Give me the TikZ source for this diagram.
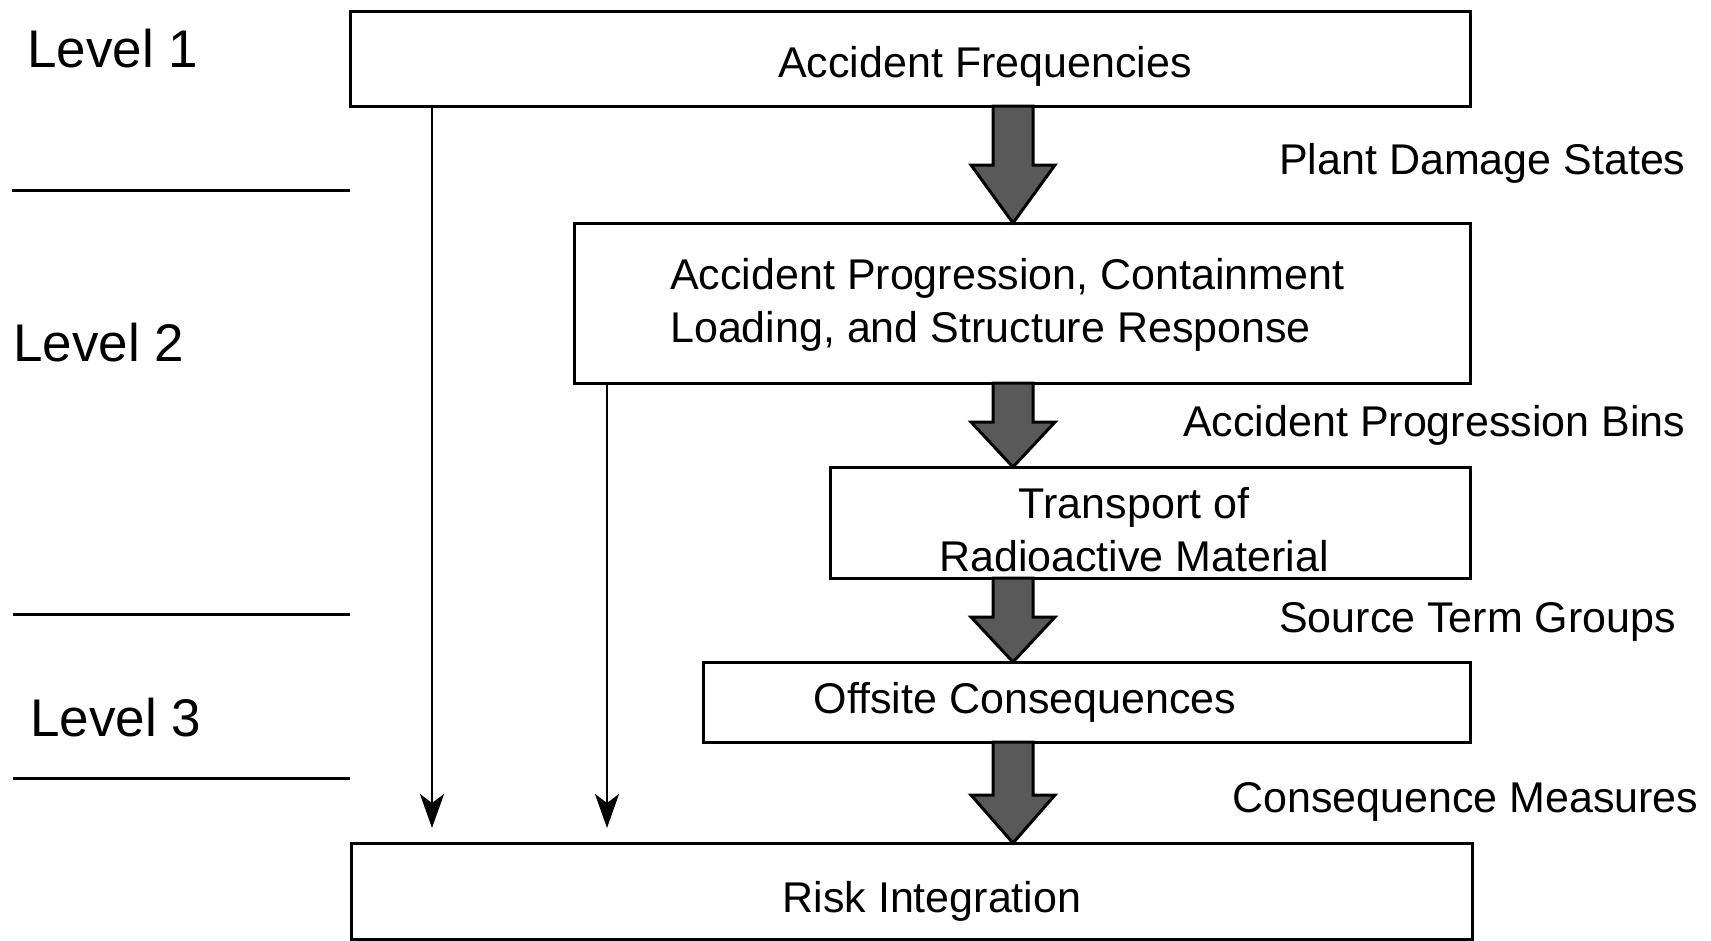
\documentclass[tikz,border=0pt]{standalone}
\usepackage{fontspec}
\setmainfont{Liberation Sans}
\usetikzlibrary{calc,arrows.meta}
\tikzset{
  box/.style={draw=black, line width=3pt, inner sep=0pt, outer sep=0pt},
  boxtext/.style={font=\fontsize{43}{53}\selectfont, inner sep=0pt, align=center},
  lvl/.style={font=\fontsize{53}{60}\selectfont, inner sep=0pt, anchor=west},
  side/.style={font=\fontsize{43}{53}\selectfont, inner sep=0pt, anchor=west},
  sep/.style={line width=3pt},
  thin/.style={line width=2.4pt, -{Stealth[length=34pt, width=24pt, inset=9pt]}},
  fatarrow/.style={draw=black, line width=3pt, fill=black!65, line join=miter}
}
\newcommand\fatarr[3]{% start, end, head length
  \path[fatarrow] let \p1=(#1), \p2=(#2) in
    (\x1-20pt,\y1) -- (\x1-20pt,\y2+#3) -- (\x1-42pt,\y2+#3) -- (\x2,\y2)
    -- (\x1+42pt,\y2+#3) -- (\x1+20pt,\y2+#3) -- (\x1+20pt,\y1) -- cycle;}
\begin{document}
\begin{tikzpicture}[x=1pt,y=-1pt]
\useasboundingbox (0,0) rectangle (1711,940);

% boxes
\node[box, minimum width=1120pt, minimum height=95pt] (af) at (910,58.5) {};
\node[box, minimum width=896pt, minimum height=160pt] (ap) at (1022,303) {};
\node[box, minimum width=640pt, minimum height=111pt] (tr) at (1150,522.5) {};
\node[box, minimum width=767pt, minimum height=80pt] (oc) at (1086.5,702) {};
\node[box, minimum width=1121pt, minimum height=96pt] (ri) at (911.5,891) {};

% box texts
\node[boxtext] (tAF) at (985,66) {Accident Frequencies};
\node[boxtext, anchor=west, align=left] (tAP) at (670,305) {Accident Progression, Containment\\Loading, and Structure Response};
\node[boxtext] (tTR) at (1134,530) {Transport of\\Radioactive Material};
\node[boxtext] (tOC) at (1025,702) {Offsite Consequences};
\node[boxtext] (tRI) at (932,901) {Risk Integration};

% level labels
\node[lvl] (l1) at (27,49) {Level 1};
\node[lvl] (l2) at (13,343) {Level 2};
\node[lvl] (l3) at (30,718) {Level 3};

% separators
\coordinate (s1a) at (12,190); \coordinate (s1b) at (af.west |- s1a);
\coordinate (s2a) at (13,614); \coordinate (s2b) at (af.west |- s2a);
\coordinate (s3a) at (13,778); \coordinate (s3b) at (af.west |- s3a);
\draw[sep] (s1a) -- (s1b);
\draw[sep] (s2a) -- (s2b);
\draw[sep] (s3a) -- (s3b);

% side labels
\node[side] (p1) at (1279,163) {Plant Damage States};
\node[side] (p2) at (1183,425) {Accident Progression Bins};
\node[side] (p3) at (1279,622) {Source Term Groups};
\node[side] (p4) at (1232,802) {Consequence Measures};

% thin arrows
\coordinate (e1) at (432,828);
\coordinate (e2) at (607,828);
\draw[thin] (af.south -| e1) -- (e1);
\draw[thin] (ap.south -| e2) -- (e2);

% fat arrows
\coordinate (x) at (1013,0);
\coordinate (a1s) at (af.south -| x); \coordinate (a1e) at (ap.north -| x);
\coordinate (a2s) at (ap.south -| x); \coordinate (a2e) at (tr.north -| x);
\coordinate (a3s) at (tr.south -| x); \coordinate (a3e) at (oc.north -| x);
\coordinate (a4s) at (oc.south -| x); \coordinate (a4e) at (ri.north -| x);
\fatarr{a1s}{a1e}{58pt}
\fatarr{a2s}{a2e}{45pt}
\fatarr{a3s}{a3e}{45pt}
\fatarr{a4s}{a4e}{48pt}
\end{tikzpicture}
\end{document}
